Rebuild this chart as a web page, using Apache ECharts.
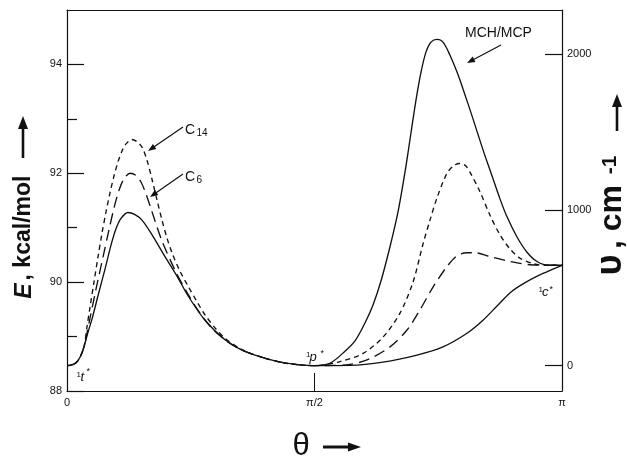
<!DOCTYPE html>
<html>
<head>
<meta charset="utf-8">
<script src="https://cdn.jsdelivr.net/npm/echarts@6/dist/echarts.min.js"></script>
<style>
html,body{margin:0;padding:0;background:#fff;}
#chart{width:627px;height:456px;}
</style>
</head>
<body>
<div id="chart"></div>
<script>
// ---- data (theta in units of pi, energies in kcal/mol) ----
const solidTheta = [0, 0.0101, 0.0182, 0.0263, 0.0343, 0.0424, 0.0505, 0.0626, 0.0768, 0.0889, 0.0990, 0.1091, 0.1232, 0.1374, 0.1515, 0.1697, 0.1980, 0.2242, 0.2444, 0.2788, 0.3192, 0.3495, 0.3899, 0.4364, 0.5, 0.5717, 0.6384, 0.7071, 0.7596, 0.8081, 0.8404, 0.8707, 0.8970, 0.9273, 0.9616, 1.0];
const solidE = [88.465, 88.48, 88.52, 88.62, 88.81, 89.08, 89.32, 89.75, 90.24, 90.68, 90.98, 91.17, 91.28, 91.24, 91.14, 90.90, 90.47, 90.08, 89.75, 89.30, 88.94, 88.77, 88.63, 88.52, 88.465, 88.47, 88.53, 88.66, 88.81, 89.06, 89.30, 89.58, 89.82, 90.00, 90.16, 90.31];

const c6Theta = [0, 0.0101, 0.0182, 0.0263, 0.0343, 0.0465, 0.0586, 0.0727, 0.0848, 0.0949, 0.1051, 0.1152, 0.1273, 0.1394, 0.1495, 0.1596, 0.1711, 0.1913, 0.2182, 0.2444, 0.2687, 0.2929, 0.3192, 0.3495, 0.3899, 0.4364, 0.5, 0.5374, 0.5717, 0.6061, 0.6525, 0.6869, 0.7131, 0.7394, 0.7671, 0.7873, 0.8075, 0.8242, 0.8545, 0.8949, 0.9354, 1.0];
const c6E = [88.465, 88.48, 88.52, 88.62, 88.81, 89.34, 89.87, 90.46, 90.96, 91.36, 91.69, 91.90, 92.00, 91.96, 91.84, 91.62, 91.31, 90.77, 90.22, 89.78, 89.43, 89.15, 88.94, 88.77, 88.63, 88.52, 88.465, 88.47, 88.49, 88.57, 88.81, 89.12, 89.49, 89.91, 90.28, 90.48, 90.54, 90.54, 90.47, 90.38, 90.32, 90.31];

const c14Theta = [0, 0.0101, 0.0182, 0.0263, 0.0343, 0.0404, 0.0465, 0.0545, 0.0626, 0.0707, 0.0788, 0.0869, 0.0949, 0.1030, 0.1111, 0.1192, 0.1307, 0.1414, 0.1515, 0.1616, 0.1717, 0.1818, 0.1919, 0.2020, 0.2121, 0.2283, 0.2444, 0.2626, 0.2788, 0.2990, 0.3192, 0.3495, 0.3899, 0.4364, 0.5, 0.5111, 0.5515, 0.5980, 0.6384, 0.6727, 0.6990, 0.7192, 0.7333, 0.7475, 0.7671, 0.7798, 0.7925, 0.8040, 0.8141, 0.8343, 0.8545, 0.8747, 0.8949, 0.9152, 0.9414, 0.9677, 1.0];
const c14E = [88.465, 88.48, 88.52, 88.62, 88.81, 89.18, 89.54, 90.00, 90.46, 90.90, 91.29, 91.64, 91.95, 92.21, 92.41, 92.54, 92.62, 92.58, 92.48, 92.24, 91.89, 91.51, 91.14, 90.81, 90.54, 90.20, 89.93, 89.64, 89.40, 89.16, 88.97, 88.78, 88.63, 88.52, 88.465, 88.47, 88.54, 88.69, 88.99, 89.43, 90.00, 90.70, 91.14, 91.55, 91.99, 92.13, 92.18, 92.15, 92.02, 91.66, 91.23, 90.87, 90.61, 90.44, 90.34, 90.31, 90.31];

const mchTheta = [0.5, 0.5313, 0.5616, 0.5818, 0.6020, 0.6182, 0.6343, 0.6525, 0.6687, 0.6828, 0.6949, 0.7051, 0.7152, 0.7253, 0.7354, 0.7475, 0.7596, 0.7737, 0.7879, 0.8, 0.8202, 0.8404, 0.8545, 0.8747, 0.8889, 0.9091, 0.9293, 0.9495, 0.9737, 1.0];
const mchE = [88.465, 88.51, 88.73, 88.92, 89.25, 89.58, 90.02, 90.65, 91.29, 92.02, 92.74, 93.35, 93.86, 94.23, 94.41, 94.46, 94.41, 94.17, 93.86, 93.55, 93.00, 92.43, 92.06, 91.53, 91.20, 90.83, 90.55, 90.38, 90.31, 90.31];

const thetaTicks = [0, 0.5, 1];
const thetaLabels = ['0', 'π/2', 'π'];
const eTicks = [88, 90, 92, 94];
const eMinorTicks = [89, 91, 93];
const nuTicks = [0, 1000, 2000];
const eMin = 88, eMax = 95;
const eZero = 88.465;         // energy of 1p* (0 cm-1)
const cmPerKcal = 349.76;     // cm-1 per kcal/mol

// ---- chart ----
const FONT = '"Liberation Sans", Arial, sans-serif';
const INK = '#111';
const zip = (xs, ys) => xs.map((x, i) => [x, ys[i]]);

function arrow(x1, y1, x2, y2, head, half, w) {
  const dx = x2 - x1, dy = y2 - y1, L = Math.hypot(dx, dy);
  const ux = dx / L, uy = dy / L;
  const bx = x2 - ux * head, by = y2 - uy * head;
  return [
    {type: 'line', silent: true, shape: {x1: x1, y1: y1, x2: bx + ux, y2: by + uy}, style: {stroke: INK, lineWidth: w}},
    {type: 'polygon', silent: true, shape: {points: [[x2, y2], [bx - uy * half, by + ux * half], [bx + uy * half, by - ux * half]]}, style: {fill: INK}}
  ];
}
function txt(x, y, text, font, align, rot) {
  return {type: 'text', x: x, y: y, rotation: rot || 0, silent: true,
    style: {text: text, font: font, textAlign: align || 'left', textVerticalAlign: 'middle', fill: INK}};
}

const lineBase = {type: 'line', showSymbol: false, smooth: 0.3, xAxisIndex: 0, yAxisIndex: 0, silent: true};

const chart = echarts.init(document.getElementById('chart'), null, {renderer: 'canvas'});
const axisLineStyle = {show: true, onZero: false, lineStyle: {color: INK, width: 1.2}};

chart.setOption({
  animation: false,
  backgroundColor: '#fff',
  grid: {left: 67, right: 65, top: 10, bottom: 65},
  xAxis: [
    {type: 'value', min: 0, max: 1, position: 'bottom', axisLine: axisLineStyle,
     axisTick: {show: true, inside: true, length: 18, customValues: [0.5], lineStyle: {color: INK, width: 1}},
     axisLabel: {customValues: thetaTicks, margin: 6, fontSize: 11, color: INK, fontFamily: FONT,
       formatter: v => thetaLabels[thetaTicks.indexOf(v)] ?? ''},
     splitLine: {show: false}},
    {type: 'value', min: 0, max: 1, position: 'top', axisLine: axisLineStyle,
     axisTick: {show: false}, axisLabel: {show: false}, splitLine: {show: false}}
  ],
  yAxis: [
    {type: 'value', min: eMin, max: eMax, position: 'left', axisLine: axisLineStyle,
     axisTick: {show: true, inside: true, length: 17, customValues: eTicks, lineStyle: {color: INK, width: 1.2}},
     axisLabel: {customValues: eTicks, margin: 5, fontSize: 11, color: INK, fontFamily: FONT, formatter: v => String(v)},
     splitLine: {show: false}},
    {type: 'value', min: eMin, max: eMax, position: 'left', axisLine: {show: false, onZero: false},
     axisTick: {show: true, inside: true, length: 10, customValues: eMinorTicks, lineStyle: {color: INK, width: 1.2}},
     axisLabel: {show: false}, splitLine: {show: false}},
    {type: 'value', min: (eMin - eZero) * cmPerKcal, max: (eMax - eZero) * cmPerKcal, position: 'right', axisLine: axisLineStyle,
     axisTick: {show: true, inside: true, length: 17, customValues: nuTicks, lineStyle: {color: INK, width: 1.2}},
     axisLabel: {customValues: nuTicks, margin: 5, fontSize: 11, color: INK, fontFamily: FONT, formatter: v => String(v)},
     splitLine: {show: false}}
  ],
  series: [
    Object.assign({}, lineBase, {name: 'solid', data: zip(solidTheta, solidE), lineStyle: {color: INK, width: 1.35}}),
    Object.assign({}, lineBase, {name: 'MCH/MCP', data: zip(mchTheta, mchE), lineStyle: {color: INK, width: 1.35}}),
    Object.assign({}, lineBase, {name: 'C6', data: zip(c6Theta, c6E), lineStyle: {color: INK, width: 1.35, type: [11, 6]}}),
    Object.assign({}, lineBase, {name: 'C14', data: zip(c14Theta, c14E), lineStyle: {color: INK, width: 1.35, type: [5, 4]}})
  ],
  graphic: [].concat(
    // left axis name
    [txt(25, 291, 'E', 'italic bold 23px ' + FONT, 'center', Math.PI / 2),
     txt(24, 228, ', kcal/mol', 'bold 23px ' + FONT, 'center', Math.PI / 2)],
    arrow(23, 158, 23, 116, 13, 5, 2.6),
    // right axis name
    [txt(611, 265, 'υ', 'bold 36px ' + FONT, 'center', Math.PI / 2),
     txt(612, 217, ', cm', 'bold 32px ' + FONT, 'center', Math.PI / 2),
     txt(610, 165, '-1', 'bold 21px ' + FONT, 'center', Math.PI / 2)],
    arrow(617, 131, 617, 94, 13, 5, 2.6),
    // x axis name
    [txt(301, 446, 'θ', '31px ' + FONT, 'center', 0)],
    arrow(323, 447, 361, 447, 13, 4.5, 3),
    // curve labels
    [txt(185, 130, 'C', '14px ' + FONT), txt(196.5, 133.5, '14', '10px ' + FONT)],
    arrow(183, 127, 148, 151, 8, 3, 1.2),
    [txt(185, 177, 'C', '14px ' + FONT), txt(196.5, 180.5, '6', '10px ' + FONT)],
    arrow(183, 174, 150, 197, 8, 3, 1.2),
    [txt(498.5, 33, 'MCH/MCP', '14px ' + FONT, 'center')],
    arrow(501, 45, 467, 63, 8, 3, 1.2),
    // state labels
    [txt(76.5, 374.5, '1', '8px ' + FONT), txt(80.5, 377, 't', 'italic 13px ' + FONT), txt(86.5, 372, '*', '9px ' + FONT)],
    [txt(306, 354.7, '1', '8px ' + FONT), txt(309.5, 357, 'p', 'italic 13px ' + FONT), txt(320.5, 354, '*', '9px ' + FONT)],
    [txt(538.5, 289.5, '1', '8px ' + FONT), txt(542, 292.8, 'c', 'italic 13px ' + FONT), txt(549.5, 289.5, '*', '9px ' + FONT)]
  )
});
</script>
</body>
</html>
